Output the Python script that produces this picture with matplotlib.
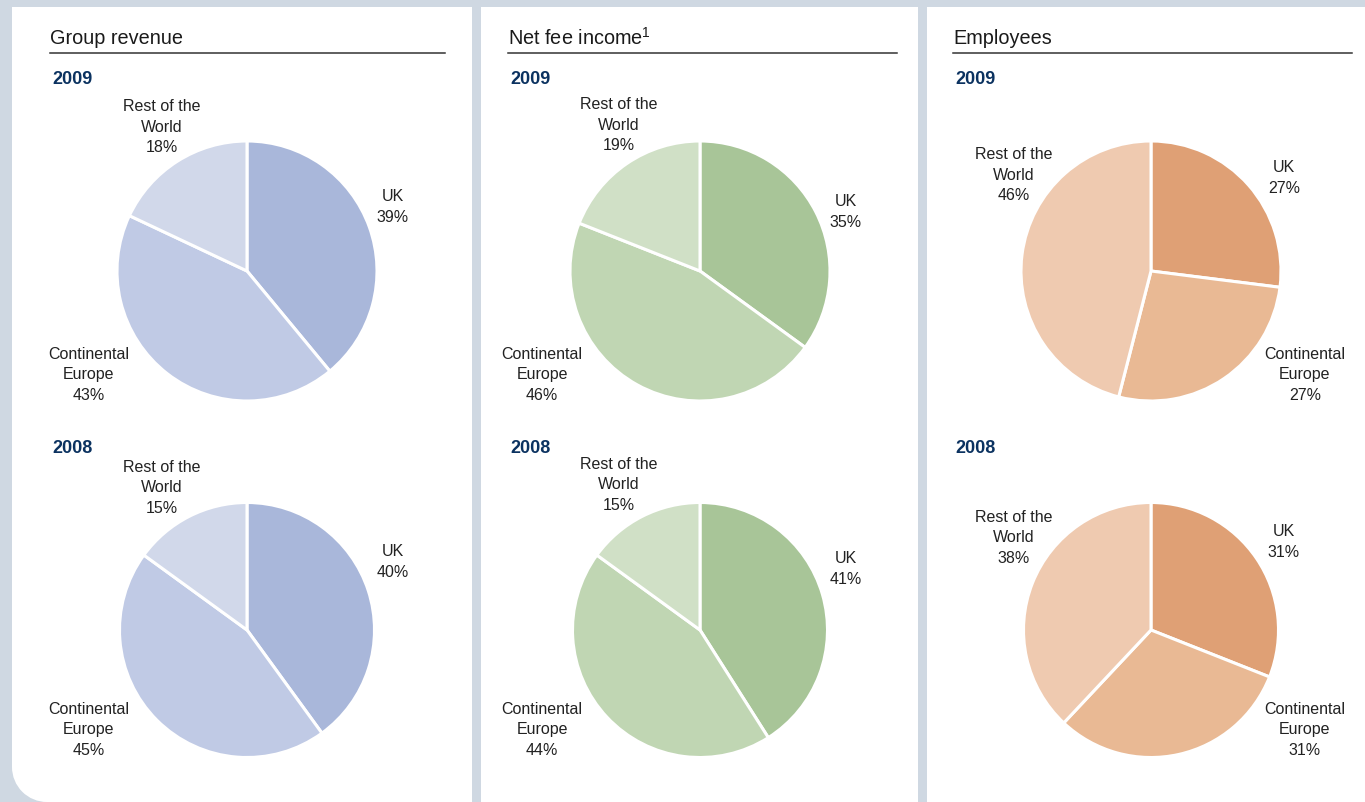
import matplotlib
matplotlib.use("Agg")
import matplotlib.pyplot as plt
from matplotlib.patches import Rectangle, Circle

plt.rcParams['font.family'] = ['Liberation Sans', 'DejaVu Sans']
plt.rcParams['mathtext.fontset'] = 'custom'
plt.rcParams['mathtext.rm'] = 'Liberation Sans'

W, H = 1365, 803

regions = ['UK', 'Continental\nEurope', 'Rest of the\nWorld']
years = ['2009', '2008']
panel_titles = ['Group revenue', 'Net fee income$^{\\mathrm{1}}$', 'Employees']

revenue_2009 = [39, 43, 18]
revenue_2008 = [40, 45, 15]
fees_2009 = [35, 46, 19]
fees_2008 = [41, 44, 15]
staff_2009 = [27, 27, 46]
staff_2008 = [31, 31, 38]

blues = ['#a9b7da', '#c0cae5', '#d1d8ea']
greens = ['#a8c598', '#c0d6b3', '#d0e0c6']
oranges = ['#dfa075', '#e9b994', '#efcab0']

bg_color = '#cfd8e2'
text_color = '#222222'
year_color = '#0b3260'

panels = [
    dict(title=panel_titles[0], data=[revenue_2009, revenue_2008], colors=blues,
         x0=12, x1=472, tx=50, rule=(50, 445), cx=247,
         uk=393, ce=89, row=162, uk_y=[207, 562], ce_y=[375, 730], row_y=[127, 488]),
    dict(title=panel_titles[1], data=[fees_2009, fees_2008], colors=greens,
         x0=481, x1=918, tx=508, rule=(508, 897), cx=700,
         uk=846, ce=542, row=619, uk_y=[212, 569], ce_y=[375, 730], row_y=[125, 485]),
    dict(title=panel_titles[2], data=[staff_2009, staff_2008], colors=oranges,
         x0=927, x1=1365, tx=953, rule=(953, 1352), cx=1151,
         uk=1284, ce=1305, row=1014, uk_y=[178, 542], ce_y=[375, 730], row_y=[175, 538]),
]
pie_cy = [272, 631]
pie_r = [130, 127.5]

fig = plt.figure(figsize=(W / 100, H / 100), dpi=100)
fig.patch.set_facecolor(bg_color)

bg = fig.add_axes([0, 0, 1, 1])
bg.set_xlim(0, W)
bg.set_ylim(H, 0)
bg.axis('off')

top = 8
for i, p in enumerate(panels):
    if i == 0:
        # first panel has a rounded bottom-left corner
        rad = 35
        bg.add_patch(Rectangle((p['x0'] + rad, top), p['x1'] - p['x0'] - rad, H - top,
                               facecolor='white', edgecolor='none'))
        bg.add_patch(Rectangle((p['x0'], top), p['x1'] - p['x0'], H - top - rad,
                               facecolor='white', edgecolor='none'))
        bg.add_patch(Circle((p['x0'] + rad, H - rad), rad, facecolor='white', edgecolor='none'))
    else:
        bg.add_patch(Rectangle((p['x0'], top), p['x1'] - p['x0'], H - top,
                               facecolor='white', edgecolor='none'))

    bg.text(p['tx'], 38, p['title'], fontsize=14.3, color='#1a1a1a', va='center', ha='left')
    bg.plot(p['rule'], [54, 54], color='#333333', lw=1.1)

    for j, vals in enumerate(p['data']):
        bg.text(p['tx'] + 2, 79 + j * 370, years[j], fontsize=13, fontweight='bold',
                color=year_color, va='center', ha='left')

        cy, r = pie_cy[j], pie_r[j] * 1.02
        ax = fig.add_axes([(p['cx'] - r) / W, 1 - (cy + r) / H, 2 * r / W, 2 * r / H])
        ax.pie(vals, colors=p['colors'], startangle=90, counterclock=False, radius=1,
               wedgeprops=dict(edgecolor='white', linewidth=2.2))
        ax.set_xlim(-1.02, 1.02)
        ax.set_ylim(-1.02, 1.02)
        ax.axis('off')

        lab = dict(fontsize=11.5, color=text_color, ha='center', va='center', linespacing=1.45)
        bg.text(p['uk'], p['uk_y'][j], f"{regions[0]}\n{vals[0]}%", **lab)
        bg.text(p['ce'], p['ce_y'][j], f"{regions[1]}\n{vals[1]}%", **lab)
        bg.text(p['row'], p['row_y'][j], f"{regions[2]}\n{vals[2]}%", **lab)

fig.savefig('out.png', dpi=100, facecolor=fig.get_facecolor())
